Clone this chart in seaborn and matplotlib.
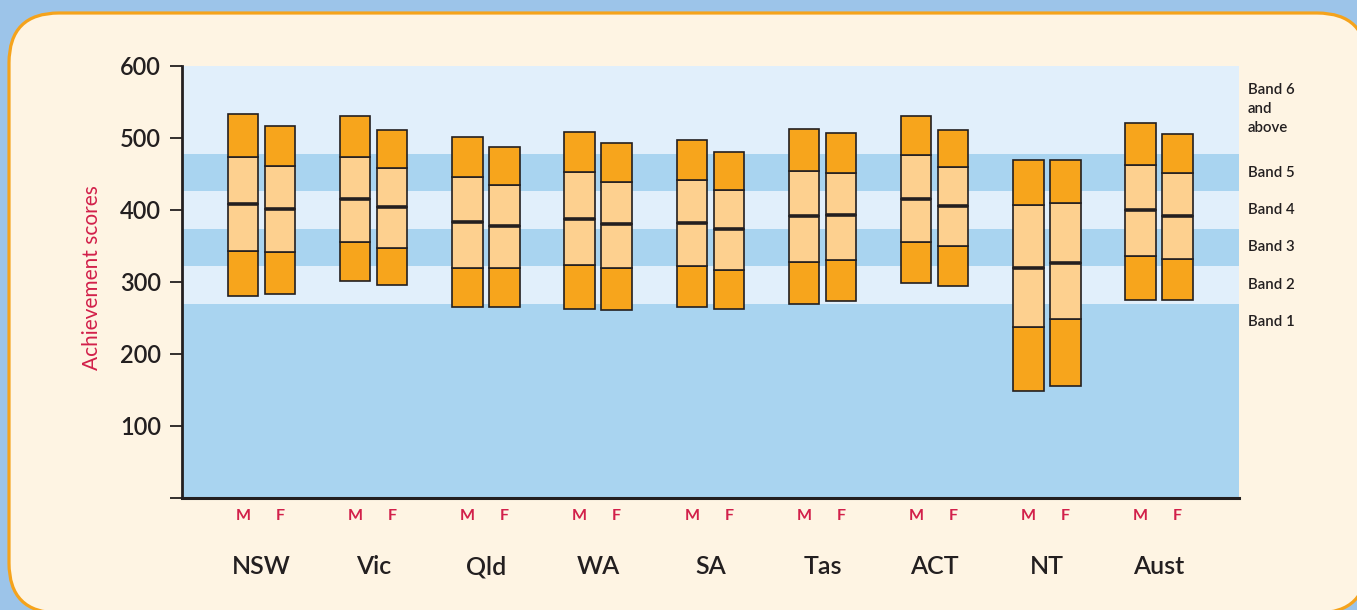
import numpy as np
import pandas as pd
import matplotlib
matplotlib.use("Agg")
import matplotlib.pyplot as plt
import matplotlib.transforms as mtransforms
from matplotlib.patches import FancyBboxPatch
import seaborn as sns

# ---------------- data ----------------
states = ["NSW", "Vic", "Qld", "WA", "SA", "Tas", "ACT", "NT", "Aust"]
sexes = ["M", "F"]

m_p5 = [281, 302, 265, 262, 265, 269, 298, 148, 275]
m_p25 = [343, 355, 320, 323, 322, 328, 356, 237, 336]
m_mean = [409, 415, 384, 388, 382, 392, 415, 320, 400]
m_p75 = [473, 473, 446, 453, 442, 454, 476, 407, 463]
m_p95 = [533, 531, 502, 509, 497, 512, 531, 469, 521]

f_p5 = [284, 296, 265, 261, 263, 274, 294, 155, 275]
f_p25 = [342, 347, 320, 320, 317, 331, 350, 248, 332]
f_mean = [402, 404, 378, 380, 373, 393, 405, 327, 392]
f_p75 = [461, 458, 435, 439, 428, 451, 460, 410, 451]
f_p95 = [517, 511, 487, 493, 480, 507, 511, 469, 505]

band_edges = [0, 270, 322, 374, 426, 478, 600]
band_labels = ["Band 1", "Band 2", "Band 3", "Band 4", "Band 5", "Band 6\nand\nabove"]
band_label_y = [244, 296, 348, 400, 452, 540]

y_ticks = [0, 100, 200, 300, 400, 500, 600]
y_tick_labels = ["", "100", "200", "300", "400", "500", "600"]

# ---------------- style ----------------
DARK = "#231f20"
ORANGE = "#f7a51c"
LIGHT_ORANGE = "#fdd08f"
BAND_LIGHT = "#e1effb"
BAND_DARK = "#a9d4f0"
RED = "#d2204a"
CREAM = "#fef4e3"
BG_BLUE = "#9cc4e9"
WEIGHT = "semibold"

sns.set_theme(style="ticks")
plt.rcParams["font.family"] = ["Lato", "DejaVu Sans"]

W, H = 1357, 610
fig = plt.figure(figsize=(W / 100, H / 100), dpi=100, facecolor=BG_BLUE)

# background panel axes (pixel coordinates)
bg = fig.add_axes([0, 0, 1, 1], zorder=0)
bg.set_xlim(0, W)
bg.set_ylim(0, H)
bg.axis("off")
panel = FancyBboxPatch((9, -3), 1358, 600, boxstyle="round,pad=0,rounding_size=50",
                       facecolor=CREAM, edgecolor="#f5a31c", linewidth=2.3)
bg.add_patch(panel)

# main axes
ax_l, ax_r, ax_t, ax_b = 182, 1239, 66, 498
ax = fig.add_axes([ax_l / W, 1 - ax_b / H, (ax_r - ax_l) / W, (ax_b - ax_t) / H], zorder=1)
ax.set_facecolor("none")

# bands
for i in range(len(band_edges) - 1):
    ax.axhspan(band_edges[i], band_edges[i + 1],
               color=BAND_DARK if i % 2 == 0 else BAND_LIGHT, lw=0, zorder=0)

# long-form table of bar segments
rows = []
stats = {"M": (m_p5, m_p25, m_mean, m_p75, m_p95),
         "F": (f_p5, f_p25, f_mean, f_p75, f_p95)}
offset = {"M": -0.165, "F": 0.165}
seg_colors = [ORANGE, LIGHT_ORANGE, LIGHT_ORANGE, ORANGE]
for sex in sexes:
    vals = stats[sex]
    for i, st in enumerate(states):
        for s in range(4):
            lo, hi = vals[s][i], vals[s + 1][i]
            rows.append(dict(state=st, sex=sex, pos=i + offset[sex], seg=s,
                             lo=lo, height=hi - lo))
df = pd.DataFrame(rows)

bar_w = 0.27
for sex in sexes:
    for s in range(4):
        sub = df[(df.sex == sex) & (df.seg == s)].sort_values("pos")
        sns.barplot(data=sub, x="pos", y="height", native_scale=True, orient="x",
                    width=bar_w, color=seg_colors[s], edgecolor=DARK, linewidth=1.2,
                    errorbar=None, bottom=sub["lo"].values, ax=ax, zorder=3,
                    saturation=1)

# mean lines (thicker)
for sex in sexes:
    pos = np.arange(len(states)) + offset[sex]
    means = stats[sex][2]
    ax.hlines(means, pos - bar_w / 2, pos + bar_w / 2, color=DARK, lw=2.6, zorder=5)

# axes formatting
ax.set_xlim(-0.7086, 8.712)
ax.set_ylim(0, 600)
ax.set_xlabel("")
ax.set_ylabel("")
ax.set_xticks([])
ax.set_yticks(y_ticks)
ax.set_yticklabels(y_tick_labels, fontsize=17, color=DARK, fontweight=WEIGHT)
ax.tick_params(axis="y", length=8.6, width=1.3, color=DARK, pad=6.5)
for side in ["top", "right"]:
    ax.spines[side].set_visible(False)
ax.spines["left"].set_color(DARK)
ax.spines["left"].set_linewidth(2)
ax.spines["bottom"].set_color(DARK)
ax.spines["bottom"].set_linewidth(2.2)

# category / sex labels
trans = mtransforms.blended_transform_factory(ax.transData, ax.transAxes)
for i, st in enumerate(states):
    ax.text(i, -0.176, st, transform=trans, ha="center", va="baseline",
            fontsize=18, color=DARK, fontweight=WEIGHT)
    for sex in sexes:
        ax.text(i + offset[sex], -0.05, sex, transform=trans, ha="center",
                va="baseline", fontsize=11.5, color=RED, fontweight="bold")

# band labels
trans2 = mtransforms.blended_transform_factory(ax.transAxes, ax.transData)
for lab, yy in zip(band_labels, band_label_y):
    ax.text(1.0085, yy, lab, transform=trans2, ha="left", va="center",
            fontsize=10.8, color=DARK, linespacing=1.45, fontweight=WEIGHT)

# y label
fig.text(92 / W, 1 - 278 / H, "Achievement scores", rotation=90, ha="center",
         va="center", fontsize=15, color=RED)

fig.savefig("out.png", dpi=100, facecolor=BG_BLUE)
